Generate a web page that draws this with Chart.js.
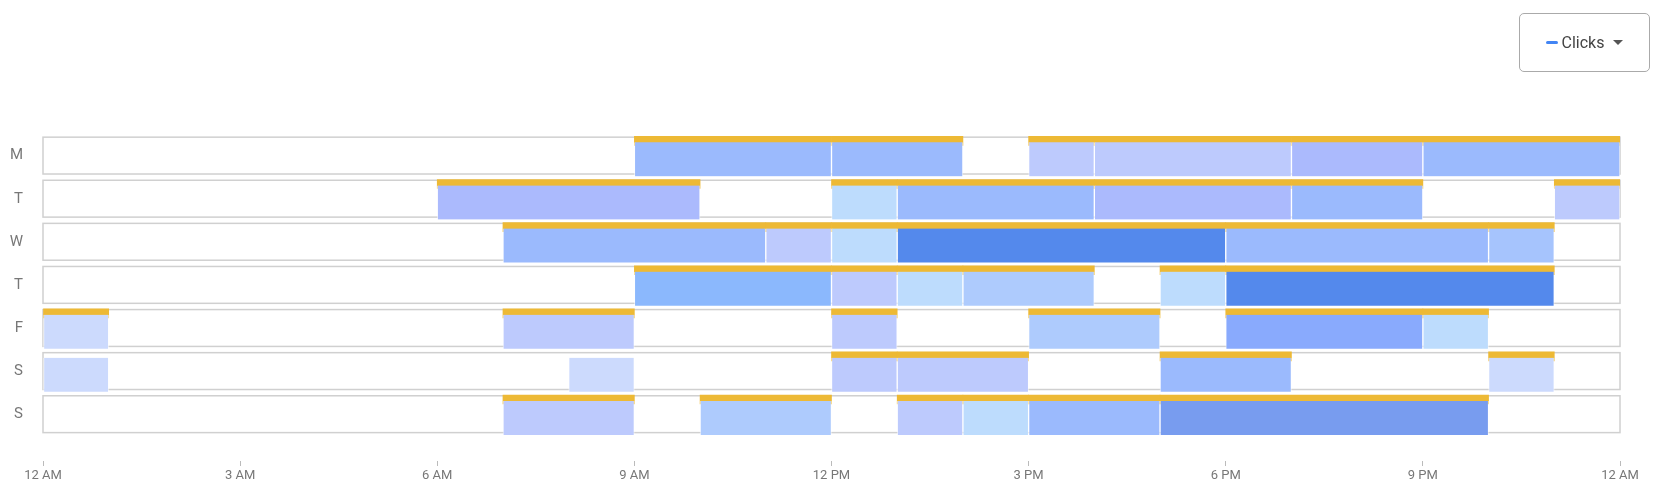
<!DOCTYPE html>
<html><head><meta charset="utf-8">
<script src="https://cdn.jsdelivr.net/npm/chart.js@4"></script>
<style>
body{margin:0;background:#fff;font-family:Roboto,sans-serif}
#wrap{position:relative;width:1680px;height:497px}
#legend{position:absolute;left:1519px;top:13px;width:131px;height:59px;border:1px solid #aaa;border-radius:5px;box-sizing:border-box;display:flex;align-items:center;justify-content:center;font-size:16px;color:#444}
#legend .dash{display:inline-block;width:12px;height:3px;border-radius:2px;background:#4285f4;margin-right:4px}
#legend .tri{display:inline-block;width:0;height:0;border-left:5px solid transparent;border-right:5px solid transparent;border-top:5px solid #555;margin-left:9px}
</style></head><body>
<div id="wrap"><canvas id="c" width="1680" height="497"></canvas>
<div id="legend"><span class="dash"></span>Clicks<span class="tri"></span></div></div>
<script>
const days = ['M','T','W','T','F','S','S'];
const tickLabels = ['12 AM','3 AM','6 AM','9 AM','12 PM','3 PM','6 PM','9 PM','12 AM'];
const palette = {a:'#bdcafd',b:'#9bbafd',c:'#abbafd',d:'#bddcfd',e:'#5489ec',f:'#8bb8fd',g:'#aecbfd',h:'#ccdafd',i:'#789cef',j:'#89aafd',k:'#a6c4fd'};
// [startHour, endHour, colourKey, scheduled]
const mon = [[9,12,'b',1],[12,14,'b',1],[15,16,'a',1],[16,19,'a',1],[19,21,'c',1],[21,24,'b',1]];
const tue = [[6,10,'c',1],[12,13,'d',1],[13,16,'b',1],[16,19,'c',1],[19,21,'b',1],[23,24,'a',1]];
const wed = [[7,11,'b',1],[11,12,'a',1],[12,13,'d',1],[13,18,'e',1],[18,22,'b',1],[22,23,'k',1]];
const thu = [[9,12,'f',1],[12,13,'a',1],[13,14,'d',1],[14,16,'g',1],[17,18,'d',1],[18,23,'e',1]];
const fri = [[0,1,'h',1],[7,9,'a',1],[12,13,'a',1],[15,17,'g',1],[18,21,'j',1],[21,22,'d',1]];
const sat = [[0,1,'h',0],[8,9,'h',0],[12,13,'a',1],[13,15,'a',1],[17,19,'b',1],[22,23,'h',1]];
const sun = [[7,9,'a',1],[10,12,'g',1],[13,14,'a',1],[14,15,'d',1],[15,17,'b',1],[17,22,'i',1]];
const rows = [mon,tue,wed,thu,fri,sat,sun];

const ROW_TOP=0.07, ROW_BOT=0.925, STRIP=0.175;
const cells=[], cellColors=[], strips=[];
rows.forEach((segs,i)=>segs.forEach(s=>{
  cells.push({x:[s[0],s[1]], y:i+ROW_TOP+STRIP+(ROW_BOT-ROW_TOP-STRIP)/2});
  cellColors.push(palette[s[2]]);
  if(s[3]) strips.push({x:[s[0],s[1]], y:i+ROW_TOP+STRIP/2});
}));

const rowBoxes={id:'rowBoxes',beforeDatasetsDraw(ch){
  const {ctx,scales:{x,y}}=ch;ctx.save();ctx.strokeStyle='#d0d0d0';ctx.lineWidth=1.5;
  rows.forEach((r,i)=>{const t=y.getPixelForValue(i+ROW_TOP),b=y.getPixelForValue(i+ROW_BOT);
    const l=x.getPixelForValue(0),rr=x.getPixelForValue(24);ctx.strokeRect(l,t,rr-l,b-t);});
  ctx.restore();}};

new Chart(document.getElementById('c'),{
  type:'bar',
  data:{datasets:[
    {data:cells,backgroundColor:cellColors,barThickness:34,grouped:false,borderColor:'rgba(255,255,255,0.55)',borderWidth:{left:1,right:1,top:0,bottom:0},borderSkipped:false},
    {data:strips,backgroundColor:'#edb935',barThickness:9,grouped:false,borderWidth:0}
  ]},
  plugins:[rowBoxes],
  options:{indexAxis:'y',responsive:false,animation:false,
    layout:{padding:{top:109,right:60,bottom:6,left:0}},
    plugins:{legend:{display:false},tooltip:{enabled:false}},
    scales:{
      x:{type:'linear',min:0,max:24,
        afterBuildTicks(s){s.ticks=tickLabels.map((t,k)=>({value:k*3}));},
        afterFit(s){s.height=30;},
        ticks:{autoSkip:false,maxRotation:0,color:'#777',font:{family:'Roboto',size:13},padding:2,callback:(v,k)=>tickLabels[k]},
        grid:{drawOnChartArea:false,drawTicks:true,tickLength:5,color:'#bbb'},border:{display:false}},
      y:{type:'linear',min:0,max:7,reverse:true,
        afterBuildTicks(s){s.ticks=days.map((d,k)=>({value:k+0.5}));},
        afterFit(s){s.width=43;},
        ticks:{autoSkip:false,color:'#777',font:{family:'Roboto',size:15},padding:12,callback:(v,k)=>days[k]},
        grid:{display:false},border:{display:false}}
    }}
});
</script></body></html>
